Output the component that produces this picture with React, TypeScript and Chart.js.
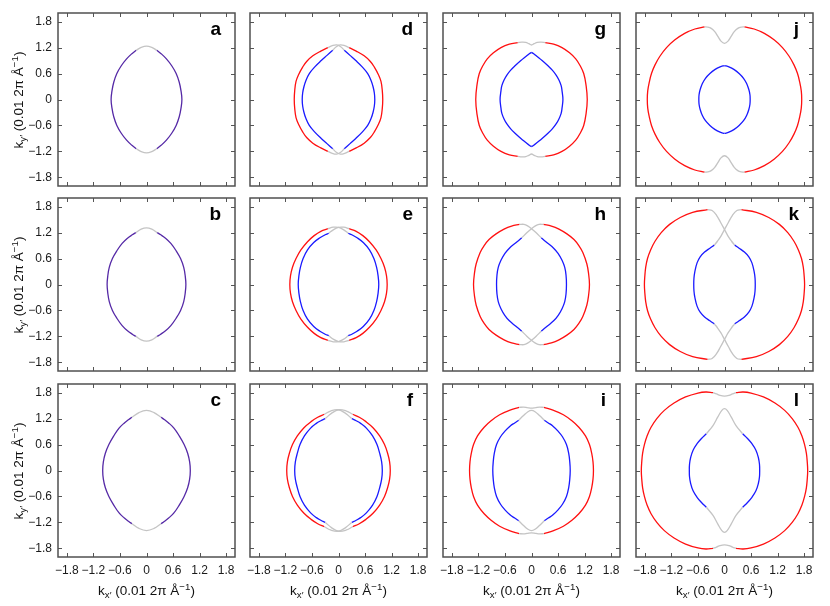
import React, { useEffect, useRef } from 'react';
import { Chart, registerables } from 'chart.js';

Chart.register(...registerables);

type Pt = [number, number];

// ---------- axis ticks ----------
const TICKS: number[] = [-1.8, -1.2, -0.6, 0, 0.6, 1.2, 1.8];
const AXIS_MIN = -2;
const AXIS_MAX = 2;

// ---------- panel letters (column-major) ----------
const LETTERS: string[] = ['a', 'b', 'c', 'd', 'e', 'f', 'g', 'h', 'i', 'j', 'k', 'l'];

// Quadrant arcs: first-quadrant points from the top junction down to the kx' axis.
// Cap halves: from x=0 out to the junction. Cross arcs: full upper gray arcs.

// a
const aOuter: Pt[] = [[0.23, 1.14], [0.33, 1.06], [0.45, 0.94], [0.57, 0.78], [0.67, 0.6], [0.74, 0.4], [0.78, 0.2], [0.8, 0]];
const aCap: Pt[] = [[0, 1.235], [0.12, 1.205], [0.23, 1.14]];
// b
const bOuter: Pt[] = [[0.24, 1.2], [0.32, 1.15], [0.43, 1.07], [0.55, 0.95], [0.67, 0.78], [0.77, 0.6], [0.84, 0.4], [0.875, 0.2], [0.89, 0]];
const bCap: Pt[] = [[0, 1.31], [0.12, 1.28], [0.24, 1.2]];
// c
const cOuter: Pt[] = [[0.33, 1.23], [0.4, 1.18], [0.5, 1.1], [0.62, 0.98], [0.74, 0.8], [0.85, 0.6], [0.93, 0.4], [0.975, 0.2], [0.99, 0]];
const cCap: Pt[] = [[0, 1.39], [0.17, 1.34], [0.33, 1.23]];
// d
const dRed: Pt[] = [[0.24, 1.2], [0.4, 1.12], [0.58, 1.01], [0.72, 0.88], [0.81, 0.75], [0.9, 0.58], [0.96, 0.42], [0.99, 0.2], [1.0, 0]];
const dBlue: Pt[] = [[0.13, 1.14], [0.26, 1.02], [0.39, 0.9], [0.53, 0.76], [0.66, 0.6], [0.74, 0.43], [0.78, 0.3], [0.81, 0.15], [0.82, 0]];
const dCross: Pt[] = [[-0.24, 1.2], [-0.14, 1.245], [-0.04, 1.262], [0.05, 1.22], [0.13, 1.14]];
// e
const eRed: Pt[] = [[0.24, 1.29], [0.4, 1.23], [0.55, 1.13], [0.7, 0.99], [0.85, 0.8], [0.96, 0.6], [1.04, 0.4], [1.085, 0.2], [1.1, 0]];
const eBlue: Pt[] = [[0.22, 1.185], [0.3, 1.15], [0.42, 1.08], [0.56, 0.97], [0.7, 0.8], [0.8, 0.6], [0.86, 0.4], [0.895, 0.2], [0.91, 0]];
const eCross: Pt[] = [[-0.24, 1.29], [-0.12, 1.325], [0, 1.32], [0.11, 1.27], [0.22, 1.185]];
// f
const fRed: Pt[] = [[0.32, 1.3], [0.47, 1.23], [0.62, 1.13], [0.78, 0.99], [0.93, 0.8], [1.04, 0.6], [1.11, 0.4], [1.155, 0.2], [1.17, 0]];
const fBlue: Pt[] = [[0.3, 1.2], [0.4, 1.15], [0.5, 1.09], [0.63, 0.98], [0.77, 0.8], [0.87, 0.6], [0.93, 0.4], [0.975, 0.2], [0.99, 0]];
const fCross: Pt[] = [[-0.32, 1.3], [-0.18, 1.375], [0, 1.405], [0.16, 1.32], [0.3, 1.2]];
// g
const gRed: Pt[] = [[0.31, 1.315], [0.5, 1.28], [0.69, 1.2], [0.86, 1.08], [1.0, 0.94], [1.1, 0.78], [1.18, 0.6], [1.23, 0.35], [1.26, 0]];
const gBlue: Pt[] = [[0, 1.09], [0.05, 1.06], [0.12, 1.0], [0.24, 0.9], [0.36, 0.79], [0.47, 0.68], [0.56, 0.56], [0.62, 0.45], [0.67, 0.32], [0.69, 0.2], [0.71, 0]];
const gCap: Pt[] = [[0, 1.26], [0.06, 1.29], [0.13, 1.32], [0.22, 1.325], [0.31, 1.315]];
// h
const hRed: Pt[] = [[0.27, 1.39], [0.45, 1.35], [0.62, 1.28], [0.8, 1.17], [0.96, 1.04], [1.07, 0.9], [1.16, 0.74], [1.25, 0.48], [1.29, 0.25], [1.31, 0]];
const hBlue: Pt[] = [[0.22, 1.08], [0.36, 0.96], [0.5, 0.84], [0.6, 0.72], [0.69, 0.56], [0.75, 0.4], [0.78, 0.22], [0.79, 0]];
const hCross: Pt[] = [[-0.27, 1.39], [-0.17, 1.39], [-0.08, 1.35], [0, 1.29], [0.1, 1.2], [0.22, 1.08]];
// i
const iRed: Pt[] = [[0.28, 1.46], [0.5, 1.39], [0.72, 1.29], [0.9, 1.16], [1.07, 1.0], [1.22, 0.8], [1.31, 0.6], [1.36, 0.4], [1.39, 0.2], [1.4, 0]];
const iBlue: Pt[] = [[0.29, 1.16], [0.38, 1.1], [0.48, 1.03], [0.6, 0.91], [0.7, 0.78], [0.79, 0.6], [0.84, 0.4], [0.865, 0.2], [0.875, 0]];
const iCapOuter: Pt[] = [[0, 1.44], [0.1, 1.455], [0.18, 1.465], [0.28, 1.46]];
const iCapInner: Pt[] = [[0, 1.39], [0.08, 1.36], [0.18, 1.27], [0.29, 1.16]];
// j
const jRed: Pt[] = [[0.45, 1.68], [0.67, 1.63], [0.9, 1.53], [1.12, 1.38], [1.31, 1.2], [1.46, 1.0], [1.57, 0.8], [1.65, 0.6], [1.7, 0.4], [1.735, 0.2], [1.745, 0]];
const jBlue: Pt[] = [[0, 0.785], [0.1, 0.755], [0.22, 0.69], [0.33, 0.6], [0.43, 0.49], [0.5, 0.37], [0.55, 0.23], [0.575, 0.11], [0.58, 0]];
const jCap: Pt[] = [[0, 1.3], [0.08, 1.35], [0.15, 1.46], [0.22, 1.57], [0.3, 1.645], [0.38, 1.675], [0.45, 1.68]];
// k
const kRed: Pt[] = [[0.38, 1.73], [0.72, 1.67], [1.0, 1.55], [1.24, 1.39], [1.43, 1.2], [1.57, 1.0], [1.67, 0.8], [1.74, 0.6], [1.78, 0.4], [1.8, 0.2], [1.81, 0]];
const kBlue: Pt[] = [[0.23, 0.91], [0.33, 0.84], [0.45, 0.75], [0.55, 0.64], [0.62, 0.5], [0.67, 0.3], [0.69, 0.15], [0.695, 0]];
const kCross: Pt[] = [[-0.38, 1.73], [-0.28, 1.71], [-0.18, 1.6], [-0.09, 1.44], [0, 1.27], [0.08, 1.12], [0.16, 1.0], [0.23, 0.91]];
// l
const lRed: Pt[] = [[0.26, 1.8], [0.42, 1.815], [0.6, 1.79], [0.88, 1.7], [1.14, 1.56], [1.36, 1.39], [1.53, 1.2], [1.66, 1.0], [1.75, 0.8], [1.81, 0.6], [1.85, 0.4], [1.87, 0.2], [1.88, 0]];
const lBlue: Pt[] = [[0.41, 0.85], [0.52, 0.74], [0.62, 0.62], [0.71, 0.47], [0.765, 0.3], [0.79, 0.15], [0.795, 0]];
const lCapOuter: Pt[] = [[0, 1.72], [0.1, 1.735], [0.18, 1.77], [0.26, 1.8]];
const lCapInner: Pt[] = [[0, 1.43], [0.06, 1.39], [0.15, 1.24], [0.26, 1.04], [0.41, 0.85]];

// ---------- styles ----------
const RED = '#ff1010';
const BLUE = '#1a1aff';
const GRAY = '#c4c4c4';
const PURPLE = '#5529a6';
const FONT = '"Liberation Sans", Arial, Helvetica, sans-serif';

interface PanelDef {
  outer: Pt[];
  outerColor: string;
  inner: Pt[] | null;
  caps: Pt[][];
  crosses: Pt[][];
}

const PANELS: PanelDef[] = [
  { outer: aOuter, outerColor: PURPLE, inner: null, caps: [aCap], crosses: [] },
  { outer: bOuter, outerColor: PURPLE, inner: null, caps: [bCap], crosses: [] },
  { outer: cOuter, outerColor: PURPLE, inner: null, caps: [cCap], crosses: [] },
  { outer: dRed, outerColor: RED, inner: dBlue, caps: [], crosses: [dCross] },
  { outer: eRed, outerColor: RED, inner: eBlue, caps: [], crosses: [eCross] },
  { outer: fRed, outerColor: RED, inner: fBlue, caps: [], crosses: [fCross] },
  { outer: gRed, outerColor: RED, inner: gBlue, caps: [gCap], crosses: [] },
  { outer: hRed, outerColor: RED, inner: hBlue, caps: [], crosses: [hCross] },
  { outer: iRed, outerColor: RED, inner: iBlue, caps: [iCapOuter, iCapInner], crosses: [] },
  { outer: jRed, outerColor: RED, inner: jBlue, caps: [jCap], crosses: [] },
  { outer: kRed, outerColor: RED, inner: kBlue, caps: [], crosses: [kCross] },
  { outer: lRed, outerColor: RED, inner: lBlue, caps: [lCapOuter, lCapInner], crosses: [] },
];

// ---------- layout ----------
const COL_LEFT = [58, 250, 443, 636];
const ROW_TOP = [13, 198, 384];
const PW = 177;
const PH = 173;
const XAXIS_H = 24;
const M = 8;

const mX = (a: Pt[]): Pt[] => a.map(([x, y]) => [-x, y] as Pt);
const mY = (a: Pt[]): Pt[] => a.map(([x, y]) => [x, -y] as Pt);

function sideArcs(q: Pt[]): Pt[][] {
  const right: Pt[] = [...q, ...mY(q.slice(0, -1).reverse())];
  return [right, mX(right)];
}
function capArc(half: Pt[]): Pt[] {
  return [...mX(half.slice(1).reverse()), ...half];
}

function fmt(v: number): string {
  if (Math.abs(v) < 1e-9) return '0';
  return (v < 0 ? '\u2212' : '') + Math.abs(v).toFixed(1);
}

function buildDatasets(p: PanelDef) {
  const ds: any[] = [];
  const line = (pts: Pt[], color: string) => ({
    data: pts.map(([x, y]) => ({ x, y })),
    showLine: true,
    borderColor: color,
    backgroundColor: color,
    borderWidth: 1.3,
    pointRadius: 0,
    tension: 0.4,
    fill: false,
  });
  const upper: Pt[][] = [...p.caps.map(capArc), ...p.crosses, ...p.crosses.map(mX)];
  const grays = [...upper, ...upper.map(mY)];
  grays.forEach((g) => ds.push(line(g, GRAY)));
  sideArcs(p.outer).forEach((a) => ds.push(line(a, p.outerColor)));
  if (p.inner) sideArcs(p.inner).forEach((a) => ds.push(line(a, BLUE)));
  return ds;
}

const framePlugin = {
  id: 'frame',
  afterDatasetsDraw(chart: any, _args: any, opts: any) {
    const { ctx, chartArea } = chart;
    const { left, right, top, bottom } = chartArea;
    const xs = chart.scales.x;
    const ys = chart.scales.y;
    ctx.save();
    ctx.strokeStyle = '#555';
    ctx.lineWidth = 1;
    ctx.beginPath();
    TICKS.forEach((v) => {
      const px = Math.round(xs.getPixelForValue(v)) + 0.5;
      ctx.moveTo(px, bottom);
      ctx.lineTo(px, bottom - 4);
      ctx.moveTo(px, top);
      ctx.lineTo(px, top + 4);
      const py = Math.round(ys.getPixelForValue(v)) + 0.5;
      ctx.moveTo(left, py);
      ctx.lineTo(left + 4, py);
      ctx.moveTo(right, py);
      ctx.lineTo(right - 4, py);
    });
    ctx.stroke();
    ctx.lineWidth = 1.5;
    ctx.strokeStyle = '#505050';
    ctx.strokeRect(left, top, right - left, bottom - top);
    ctx.fillStyle = '#000';
    ctx.font = `bold 19px ${FONT}`;
    ctx.textAlign = 'right';
    ctx.textBaseline = 'alphabetic';
    ctx.fillText(opts.letter, right - 14, top + 22);
    ctx.restore();
  },
};

function zeroPad(s: any) {
  s.paddingLeft = 0;
  s.paddingRight = 0;
  s.paddingTop = 0;
  s.paddingBottom = 0;
}

function Panel({ idx }: { idx: number }) {
  const ref = useRef<HTMLCanvasElement>(null);
  const col = Math.floor(idx / 3);
  const row = idx % 3;
  const L = COL_LEFT[col];
  const T = ROW_TOP[row];
  const showY = col === 0;
  const showX = row === 2;
  const padL = showY ? 0 : M;
  const cLeft = showY ? 0 : L - M;
  const cTop = T - M;
  const cW = L + PW + M - cLeft;
  const cH = showX ? PH + M + XAXIS_H : PH + 2 * M;

  useEffect(() => {
    const canvas = ref.current!;
    const tickFont = { family: FONT, size: 12 };
    const chart = new Chart(canvas, {
      type: 'scatter',
      data: { datasets: buildDatasets(PANELS[idx]) },
      plugins: [framePlugin],
      options: {
        animation: false,
        responsive: false,
        events: [],
        layout: {
          autoPadding: false,
          padding: { left: padL, right: M, top: M, bottom: showX ? 0 : M },
        },
        plugins: {
          legend: { display: false },
          tooltip: { enabled: false },
          frame: { letter: LETTERS[idx] },
        } as any,
        scales: {
          x: {
            type: 'linear',
            min: AXIS_MIN,
            max: AXIS_MAX,
            display: showX,
            afterBuildTicks: (s: any) => {
              s.ticks = TICKS.map((v) => ({ value: v }));
            },
            afterFit: (s: any) => {
              zeroPad(s);
              if (showX) s.height = XAXIS_H;
            },
            grid: { display: false, drawTicks: false },
            border: { display: false },
            ticks: {
              autoSkip: false,
              maxRotation: 0,
              minRotation: 0,
              padding: 6,
              font: tickFont,
              color: '#1a1a1a',
              callback: (v: any) => fmt(Number(v)),
            },
          },
          y: {
            type: 'linear',
            min: AXIS_MIN,
            max: AXIS_MAX,
            display: showY,
            afterBuildTicks: (s: any) => {
              s.ticks = TICKS.map((v) => ({ value: v }));
            },
            afterFit: (s: any) => {
              zeroPad(s);
              if (showY) s.width = L;
            },
            grid: { display: false, drawTicks: false },
            border: { display: false },
            ticks: {
              autoSkip: false,
              padding: 6,
              font: tickFont,
              color: '#1a1a1a',
              callback: (v: any) => fmt(Number(v)),
            },
          },
        },
      } as any,
    });
    return () => chart.destroy();
  }, [idx]);

  return (
    <canvas
      ref={ref}
      width={cW}
      height={cH}
      style={{ position: 'absolute', left: cLeft, top: cTop, width: cW, height: cH }}
    />
  );
}

const subStyle: React.CSSProperties = { fontSize: '0.72em', verticalAlign: '-0.3em', lineHeight: 0 };
const supStyle: React.CSSProperties = { fontSize: '0.72em', verticalAlign: '0.55em', lineHeight: 0 };

function AxisTitle({ axis }: { axis: 'x' | 'y' }) {
  return (
    <span>
      k<span style={subStyle}>{axis === 'x' ? 'x\u2032' : 'y\u2032'}</span> (0.01 2π Å
      <span style={supStyle}>−1</span>)
    </span>
  );
}

export default function App() {
  const titleBase: React.CSSProperties = {
    position: 'absolute',
    whiteSpace: 'nowrap',
    fontFamily: FONT,
    fontSize: 13.5,
    color: '#111',
    lineHeight: 1,
  };
  return (
    <div
      style={{
        position: 'fixed',
        left: 0,
        top: 0,
        width: 830,
        height: 606,
        background: '#fff',
        overflow: 'hidden',
      }}
    >
      {LETTERS.map((_, i) => (
        <Panel key={i} idx={i} />
      ))}
      {ROW_TOP.map((t, r) => (
        <div
          key={'y' + r}
          style={{
            ...titleBase,
            left: 19,
            top: t + PH / 2,
            transform: 'translate(-50%, -50%) rotate(-90deg)',
          }}
        >
          <AxisTitle axis="y" />
        </div>
      ))}
      {COL_LEFT.map((l, c) => (
        <div
          key={'x' + c}
          style={{
            ...titleBase,
            left: l + PW / 2,
            top: 591,
            transform: 'translate(-50%, -50%)',
          }}
        >
          <AxisTitle axis="x" />
        </div>
      ))}
    </div>
  );
}
